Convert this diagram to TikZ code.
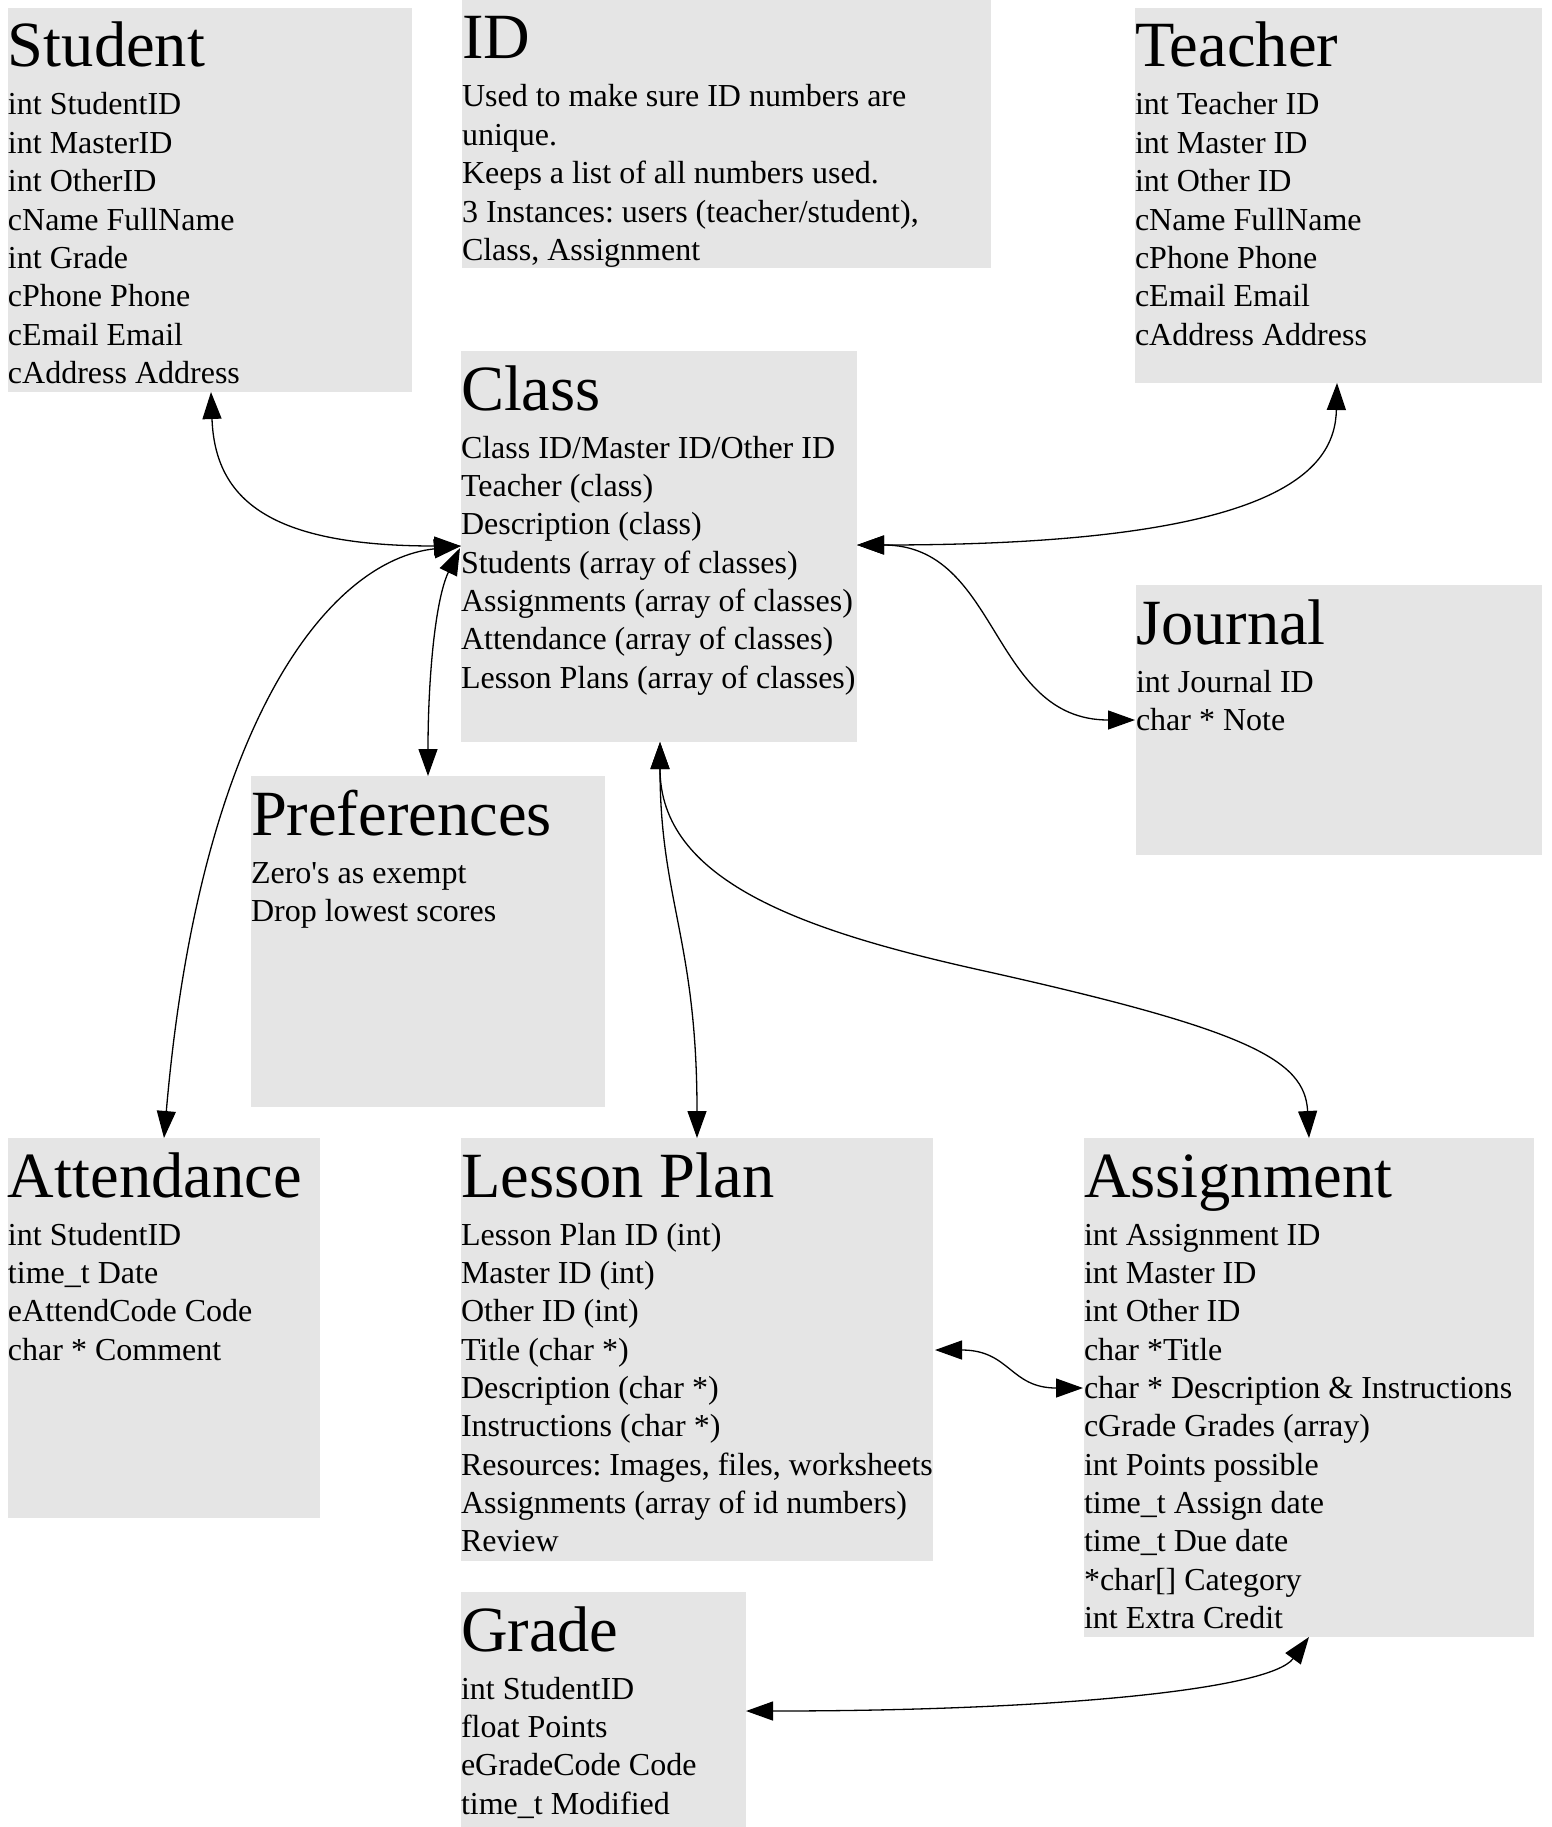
\documentclass[tikz,border=0pt]{standalone}
\usepackage{fontspec}
\newfontfamily\diafont{Liberation Serif}
\usetikzlibrary{arrows.meta,calc}
\definecolor{boxgray}{RGB}{229,229,229}
\frenchspacing
\newcommand\dialines[3]{%
  \node[ttl] (#1-title) at ($(#1.north west)+(0,59)$) {#2};
  \foreach \itm [count=\k from 0] in {#3}
    \node[bdy] at ($(#1.north west)+(0,107+38.35*\k)$) {\itm};
}
\begin{document}
\begin{tikzpicture}[x=1pt,y=-1pt,
  box/.style={fill=boxgray,draw=none,inner sep=0pt,outer sep=0pt,anchor=north west},
  ttl/.style={anchor=base west,inner sep=0pt,outer sep=0pt,font=\diafont\fontsize{64.5}{72}\selectfont},
  bdy/.style={anchor=base west,inner sep=0pt,outer sep=0pt,font=\diafont\fontsize{32}{38}\selectfont},
  link/.style={line width=1.3pt,{Triangle[length=27pt,width=19pt]}-{Triangle[length=27pt,width=19pt]}}]
\useasboundingbox (0,0) rectangle (1551,1827);
\fill[white] (0,0) rectangle (1551,1827);

% boxes
\node[box,minimum width=404pt,minimum height=384pt] (student) at (8,8) {};
\node[box,minimum width=529pt,minimum height=268pt] (id) at (462,0) {};
\node[box,minimum width=407pt,minimum height=375pt] (teacher) at (1135,8) {};
\node[box,minimum width=396pt,minimum height=391pt] (class) at (461,351) {};
\node[box,minimum width=406pt,minimum height=270pt] (journal) at (1136,585) {};
\node[box,minimum width=354pt,minimum height=331pt] (prefs) at (251,776) {};
\node[box,minimum width=312pt,minimum height=380pt] (attendance) at (8,1138) {};
\node[box,minimum width=472pt,minimum height=423pt] (lesson) at (461,1138) {};
\node[box,minimum width=450pt,minimum height=499pt] (assignment) at (1084,1138) {};
\node[box,minimum width=285pt,minimum height=235pt] (grade) at (461,1592) {};

% texts
\dialines{student}{Student}{int StudentID,int MasterID,int OtherID,cName FullName,int Grade,cPhone Phone,cEmail Email,cAddress Address}
\dialines{id}{ID}{Used to make sure ID numbers are,unique.,Keeps a list of all numbers used.,{3 Instances: users (teacher/student),},{Class, Assignment}}
\dialines{teacher}{Teacher}{int Teacher ID,int Master ID,int Other ID,cName FullName,cPhone Phone,cEmail Email,cAddress Address}
\dialines{class}{Class}{Class ID/Master ID/Other ID,Teacher (class),Description (class),Students (array of classes),Assignments (array of classes),Attendance (array of classes),Lesson Plans (array of classes)}
\dialines{journal}{Journal}{int Journal ID,char * Note}
\dialines{prefs}{Preferences}{Zero's as exempt,Drop lowest scores}
\dialines{attendance}{Attendance}{int StudentID,time\_t Date,eAttendCode Code,char * Comment}
\dialines{lesson}{Lesson Plan}{Lesson Plan ID (int),Master ID (int),Other ID (int),Title (char *),Description (char *),Instructions (char *),{Resources: Images, files, worksheets},Assignments (array of id numbers),Review}
\dialines{assignment}{Assignment}{int Assignment ID,int Master ID,int Other ID,char *Title,char * Description \& Instructions,cGrade Grades (array),int Points possible,time\_t Assign date,time\_t Due date,{*char[] Category},int Extra Credit}
\dialines{grade}{Grade}{int StudentID,float Points,eGradeCode Code,time\_t Modified}

% connector end points
\coordinate (stuB) at ($(student.south west)+(203,0)$);
\coordinate (clsL) at ($(class.north west)+(0,195)$);
\coordinate (clsL2) at ($(class.north west)+(-1,197)$);
\coordinate (clsR) at ($(class.north east)+(0,194)$);
\coordinate (clsB) at ($(class.south west)+(199,0)$);
\coordinate (tchB) at ($(teacher.south west)+(202,0)$);
\coordinate (jrnL) at ($(journal.north west)+(-1,135)$);
\coordinate (prfT) at ($(prefs.north west)+(177,0)$);
\coordinate (attT) at ($(attendance.north west)+(156,0)$);
\coordinate (lesT) at ($(lesson.north west)+(236,0)$);
\coordinate (asgT) at ($(assignment.north west)+(225,0)$);
\coordinate (lesR) at ($(lesson.north east)+(2,212)$);
\coordinate (asgL) at ($(assignment.north west)+(-1,250)$);
\coordinate (asgB) at ($(assignment.south west)+(225,0)$);
\coordinate (grdR) at ($(grade.north east)+(0,119)$);
\coordinate (asgMid) at (980,970);

% connectors
\draw[link] (stuB) .. controls +(4,108) and +(-191,0) .. (clsL);
\draw[link] (tchB) .. controls +(-2,87) and +(423,0) .. (clsR);
\draw[link] (clsR) .. controls +(143,0) and +(-145,0) .. (jrnL);
\draw[link] (clsL) .. controls +(-131,14) and +(36,-418) .. (attT);
\draw[link] (clsL2) .. controls +(-25,52) and +(0,-96) .. (prfT);
\draw[link] (clsB) .. controls +(0,158) and +(0,-198) .. (lesT);
\draw[link] (clsB) .. controls +(0,138) and +(-180,-40) .. (asgMid) .. controls +(270,60) and +(-4,-78) .. (asgT);
\draw[link] (lesR) .. controls +(75,0) and +(-73,0) .. (asgL);
\draw[link] (asgB) .. controls +(-39,53) and +(304,0) .. (grdR);
\end{tikzpicture}
\end{document}
